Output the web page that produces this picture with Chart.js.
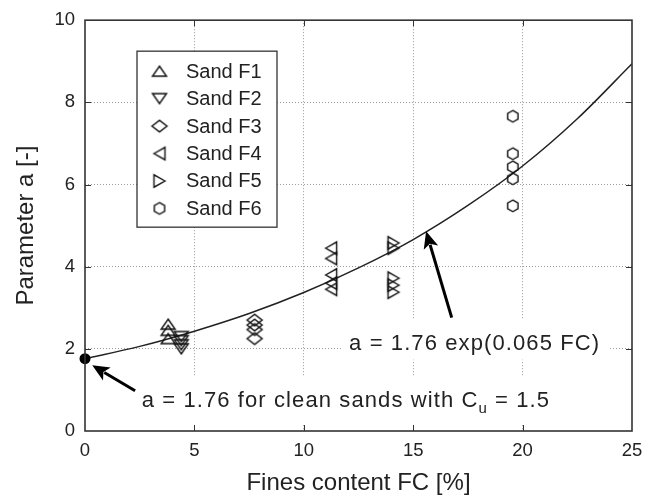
<!DOCTYPE html>
<html>
<head>
<meta charset="utf-8">
<script src="https://cdn.jsdelivr.net/npm/chart.js@4.4.1/dist/chart.umd.min.js"></script>
<style>
  html, body { margin: 0; padding: 0; background: #fff; }
  canvas { display: block; }
</style>
</head>
<body>
<canvas id="grafico" width="662" height="501"></canvas>
<script>
// valores (FC en %, parámetro a)
const fcF1 = [3.8, 3.8, 3.8];
const aF1 = [2.6, 2.45, 2.25];
const fcF2 = [4.4, 4.4, 4.4, 4.4];
const aF2 = [2.3, 2.2, 2.1, 2.0];
const fcF3 = [7.75, 7.75, 7.75, 7.75];
const aF3 = [2.7, 2.58, 2.47, 2.25];
const fcF4 = [11.25, 11.25, 11.25, 11.25, 11.25];
const aF4 = [4.45, 4.2, 3.8, 3.6, 3.45];
const fcF5 = [14.1, 14.1, 14.1, 14.1, 14.1];
const aF5 = [4.58, 4.45, 3.72, 3.55, 3.38];
const fcF6 = [19.55, 19.55, 19.55, 19.55, 19.55];
const aF6 = [7.66, 6.75, 6.43, 6.14, 5.48];

// curva de ajuste
const fitFC = [0, 2.5, 5, 7.5, 10, 12.5, 15, 17.5, 20, 22.5, 25];
const fitA = [1.76, 2.06, 2.43, 2.86, 3.37, 3.97, 4.66, 5.49, 6.45, 7.60, 8.94];

// punto de arenas limpias
const cleanFC = [0];
const cleanA = [1.76];

const xTicks = [0, 5, 10, 15, 20, 25];
const yTicks = [0, 2, 4, 6, 8, 10];

const etiquetas = ['Sand F1', 'Sand F2', 'Sand F3', 'Sand F4', 'Sand F5', 'Sand F6'];

const TINTA = '#222';
const FUENTE = '"Liberation Sans", Arial, Helvetica, sans-serif';

// marcadores huecos como en el original
function marcador(tipo) {
  const c = document.createElement('canvas');
  c.width = 20;
  c.height = 20;
  const g = c.getContext('2d');
  g.translate(10, 10);
  const formas = {
    up: [[0, -5], [7, 5], [-7, 5]],
    down: [[0, 5], [7, -5], [-7, -5]],
    diamond: [[-7.5, 0], [0, -5.8], [7.5, 0], [0, 5.8]],
    left: [[-5.5, 0], [5.5, -6.2], [5.5, 6.2]],
    right: [[5.5, 0], [-5.5, -6.2], [-5.5, 6.2]],
    hex: [[0, -5.8], [5.2, -2.9], [5.2, 2.9], [0, 5.8], [-5.2, 2.9], [-5.2, -2.9]]
  };
  const p = formas[tipo];
  g.beginPath();
  g.moveTo(p[0][0], p[0][1]);
  for (let i = 1; i < p.length; i++) g.lineTo(p[i][0], p[i][1]);
  g.closePath();
  g.strokeStyle = '#111';
  g.lineWidth = 1.4;
  g.stroke();
  return c;
}

function puntos(xs, ys) {
  return xs.map((x, i) => ({ x: x, y: ys[i] }));
}

const estilos = ['up', 'down', 'diamond', 'left', 'right', 'hex'].map(marcador);
const series = [[fcF1, aF1], [fcF2, aF2], [fcF3, aF3], [fcF4, aF4], [fcF5, aF5], [fcF6, aF6]];

const datasets = series.map((s, i) => ({
  label: etiquetas[i],
  data: puntos(s[0], s[1]),
  pointStyle: estilos[i],
  pointRadius: 7,
  showLine: false,
  order: 1
}));

datasets.push({
  label: 'ajuste',
  data: puntos(fitFC, fitA),
  showLine: true,
  borderColor: TINTA,
  borderWidth: 1.5,
  pointRadius: 0,
  cubicInterpolationMode: 'monotone',
  order: 2
});

datasets.push({
  label: 'limpia',
  data: puntos(cleanFC, cleanA),
  pointStyle: 'circle',
  pointRadius: 5.5,
  backgroundColor: '#000',
  borderColor: '#000',
  borderWidth: 0,
  showLine: false,
  clip: false,
  order: 0
});

// anotaciones en unidades de datos
const notas = [
  { partes: [['a = 1.76 for clean sands with C', false], ['u', true], [' = 1.5', false]], fc: 2.59, a: 0.595, abajo: 18 },
  { partes: [['a = 1.76 exp(0.065 FC)', false]], fc: 12.07, a: 1.98, abajo: 10 }
];
const flechas = [
  { desde: [2.29, 0.98], hasta: [0.33, 1.6] },
  { desde: [16.76, 2.76], hasta: [15.59, 4.86] }
];

const fondo = {
  id: 'fondo',
  beforeDraw(chart) {
    const c = chart.ctx;
    c.save();
    c.fillStyle = '#fff';
    c.fillRect(0, 0, chart.width, chart.height);
    c.restore();
  }
};

function fuenteNota(sub) {
  return sub ? '15px ' + FUENTE : '22px ' + FUENTE;
}

const textos = {
  id: 'textos',
  beforeDatasetsDraw(chart) {
    const c = chart.ctx, sx = chart.scales.x, sy = chart.scales.y;
    c.save();
    notas.forEach(n => {
      const x0 = sx.getPixelForValue(n.fc);
      const base = sy.getPixelForValue(n.a);
      let x = x0;
      c.letterSpacing = '1.1px';
      n.partes.forEach(p => {
        c.font = fuenteNota(p[1]);
        x += c.measureText(p[0]).width;
      });
      c.fillStyle = '#fff';
      c.fillRect(x0 - 8, base - 30, x - x0 + 18, 30 + n.abajo);
      c.fillStyle = TINTA;
      c.textBaseline = 'alphabetic';
      c.textAlign = 'left';
      x = x0;
      n.partes.forEach(p => {
        c.font = fuenteNota(p[1]);
        c.fillText(p[0], x, p[1] ? base + 6 : base);
        x += c.measureText(p[0]).width;
      });
    });
    c.restore();
  },
  afterDatasetsDraw(chart) {
    const c = chart.ctx, sx = chart.scales.x, sy = chart.scales.y;
    c.save();
    c.strokeStyle = '#000';
    c.fillStyle = '#000';
    flechas.forEach(f => {
      const x1 = sx.getPixelForValue(f.desde[0]), y1 = sy.getPixelForValue(f.desde[1]);
      const x2 = sx.getPixelForValue(f.hasta[0]), y2 = sy.getPixelForValue(f.hasta[1]);
      const ang = Math.atan2(y2 - y1, x2 - x1);
      const largo = 17, ancho = 7.5;
      const bx = x2 - Math.cos(ang) * largo, by = y2 - Math.sin(ang) * largo;
      c.lineWidth = 3;
      c.beginPath();
      c.moveTo(x1, y1);
      c.lineTo(bx + Math.cos(ang) * 3, by + Math.sin(ang) * 3);
      c.stroke();
      c.beginPath();
      c.moveTo(x2, y2);
      c.lineTo(bx - Math.sin(ang) * ancho, by + Math.cos(ang) * ancho);
      c.lineTo(bx + Math.cos(ang) * 4, by + Math.sin(ang) * 4);
      c.lineTo(bx + Math.sin(ang) * ancho, by - Math.cos(ang) * ancho);
      c.closePath();
      c.fill();
    });
    c.restore();
  }
};

// marco completo con marcas hacia dentro
const marco = {
  id: 'marco',
  afterDatasetsDraw(chart) {
    const c = chart.ctx, a = chart.chartArea, sx = chart.scales.x, sy = chart.scales.y;
    c.save();
    c.strokeStyle = '#333';
    c.lineWidth = 1;
    c.beginPath();
    xTicks.slice(1, -1).forEach(v => {
      const px = Math.round(sx.getPixelForValue(v)) + 0.5;
      c.moveTo(px, a.bottom); c.lineTo(px, a.bottom - 6);
      c.moveTo(px, a.top); c.lineTo(px, a.top + 6);
    });
    yTicks.slice(1, -1).forEach(v => {
      const py = Math.round(sy.getPixelForValue(v)) + 0.5;
      c.moveTo(a.left, py); c.lineTo(a.left + 6, py);
      c.moveTo(a.right, py); c.lineTo(a.right - 6, py);
    });
    c.stroke();
    c.lineWidth = 1.6;
    c.strokeRect(a.left, a.top, a.right - a.left, a.bottom - a.top);
    c.restore();
  }
};

const leyenda = {
  id: 'leyenda',
  afterDatasetsDraw(chart) {
    const c = chart.ctx, a = chart.chartArea;
    const x0 = a.left + 52, y0 = a.top + 31, w = 140, h = 176;
    c.save();
    c.fillStyle = '#fff';
    c.fillRect(x0, y0, w, h);
    c.strokeStyle = '#333';
    c.lineWidth = 1.3;
    c.strokeRect(x0, y0, w, h);
    c.font = '20px ' + FUENTE;
    c.fillStyle = TINTA;
    c.textBaseline = 'middle';
    chart.data.datasets.slice(0, etiquetas.length).forEach((d, i) => {
      const y = y0 + 20 + i * 27.45;
      const img = d.pointStyle;
      c.drawImage(img, x0 + 22.5 - img.width / 2, y - img.height / 2);
      c.fillText(d.label, x0 + 49, y + 1);
    });
    c.restore();
  }
};

Chart.defaults.font.family = FUENTE;
Chart.defaults.color = TINTA;

new Chart(document.getElementById('grafico').getContext('2d'), {
  type: 'scatter',
  data: { datasets: datasets },
  options: {
    responsive: false,
    animation: false,
    events: [],
    layout: { padding: { left: 0, top: 11, right: 30, bottom: 0 } },
    plugins: {
      legend: { display: false },
      tooltip: { enabled: false }
    },
    scales: {
      x: {
        type: 'linear',
        min: 0,
        max: 25,
        afterBuildTicks: s => { s.ticks = xTicks.map(v => ({ value: v })); },
        afterFit: s => { s.height = 70; },
        ticks: { font: { size: 18.5 }, padding: 9, color: TINTA },
        grid: {
          drawTicks: false,
          lineWidth: 1,
          color: ctx => (ctx.tick && (ctx.tick.value === 0 || ctx.tick.value === 25)) ? 'rgba(0,0,0,0)' : '#9a9a9a'
        },
        border: { display: false, dash: [1, 2] },
        title: { display: true, text: 'Fines content FC [%]', font: { size: 24 }, color: TINTA, padding: { top: 0, bottom: 3 } }
      },
      y: {
        type: 'linear',
        min: 0,
        max: 10,
        afterBuildTicks: s => { s.ticks = yTicks.map(v => ({ value: v })); },
        afterFit: s => { s.width = 85; },
        ticks: { font: { size: 18.5, lineHeight: 1.1 }, padding: 10, color: TINTA },
        grid: {
          drawTicks: false,
          lineWidth: 1,
          color: ctx => (ctx.tick && (ctx.tick.value === 0 || ctx.tick.value === 10)) ? 'rgba(0,0,0,0)' : '#9a9a9a'
        },
        border: { display: false, dash: [1, 2] },
        title: { display: true, text: 'Parameter a [-]', font: { size: 24 }, color: TINTA, padding: { top: 12, bottom: 0 } }
      }
    }
  },
  plugins: [fondo, textos, marco, leyenda]
});
</script>
</body>
</html>
